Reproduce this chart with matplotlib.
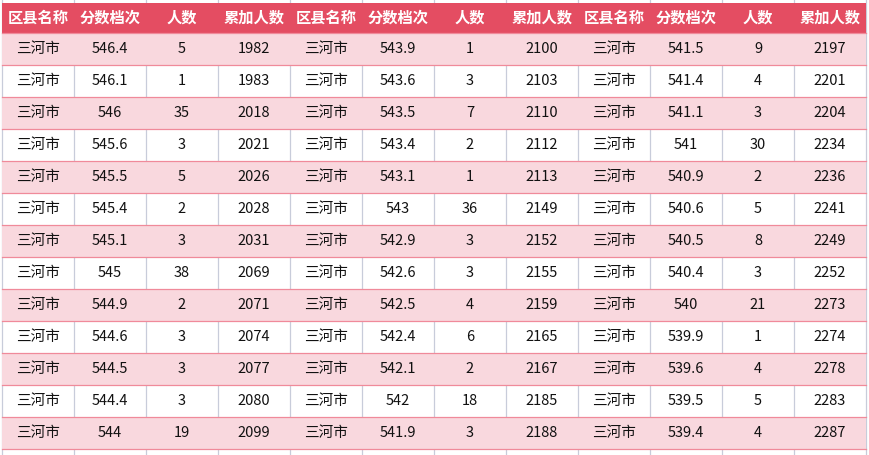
import matplotlib
matplotlib.use("Agg")
import matplotlib.pyplot as plt
from matplotlib.patches import Rectangle

headers = ["区县名称", "分数档次", "人数", "累加人数"] * 3
district = "三河市"
scores1 = ["546.4","546.1","546","545.6","545.5","545.4","545.1","545","544.9","544.6","544.5","544.4","544"]
counts1 = [5,1,35,3,5,2,3,38,2,3,3,3,19]
cum1 = [1982,1983,2018,2021,2026,2028,2031,2069,2071,2074,2077,2080,2099]
scores2 = ["543.9","543.6","543.5","543.4","543.1","543","542.9","542.6","542.5","542.4","542.1","542","541.9"]
counts2 = [1,3,7,2,1,36,3,3,4,6,2,18,3]
cum2 = [2100,2103,2110,2112,2113,2149,2152,2155,2159,2165,2167,2185,2188]
scores3 = ["541.5","541.4","541.1","541","540.9","540.6","540.5","540.4","540","539.9","539.6","539.5","539.4"]
counts3 = [9,4,3,30,2,5,8,3,21,1,4,5,4]
cum3 = [2197,2201,2204,2234,2236,2241,2249,2252,2273,2274,2278,2283,2287]

W, H = 870, 455
fig = plt.figure(figsize=(W/100, H/100), dpi=100)
ax = fig.add_axes([0, 0, 1, 1])
ax.set_xlim(0, W); ax.set_ylim(H, 0); ax.axis("off")

x0, cw = 2, 72
top, hh, rh = 3, 30, 32
ncol = 12
font = "Noto Sans CJK SC"

ax.add_patch(Rectangle((x0, top), cw*ncol, hh, color="#E44D62", lw=0))
for j, h in enumerate(headers):
    ax.text(x0 + cw*j + cw/2, top + hh/2, h, ha="center", va="center",
            color="white", fontsize=11, fontweight="bold", family=font)

rows = []
for i in range(13):
    rows.append([district, scores1[i], counts1[i], cum1[i],
                 district, scores2[i], counts2[i], cum2[i],
                 district, scores3[i], counts3[i], cum3[i]])
y = top + hh
for i, r in enumerate(rows):
    if i % 2 == 0:
        ax.add_patch(Rectangle((x0, y), cw*ncol, rh, color="#F9D8DE", lw=0))
    for j, v in enumerate(r):
        ax.text(x0 + cw*j + cw/2, y + rh/2, str(v), ha="center", va="center",
                color="#111111", fontsize=10.5, family=font)
    ax.plot([x0, x0+cw*ncol], [y+rh, y+rh], color="#F08A9A", lw=0.9)
    y += rh
for j in range(ncol+1):
    ax.plot([x0+cw*j]*2, [0, H], color="#C8CCDA", lw=0.9, zorder=0.5)
ax.plot([x0, x0+cw*ncol], [top+hh, top+hh], color="#F08A9A", lw=0.9)
fig.savefig("out.png", dpi=100)
